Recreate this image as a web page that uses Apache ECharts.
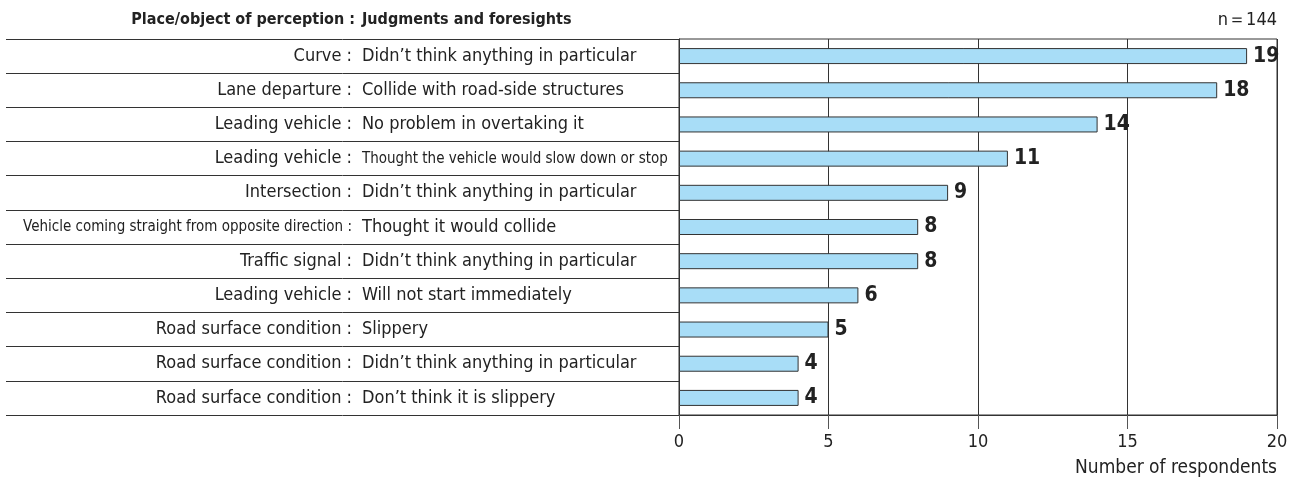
<!DOCTYPE html>
<html>
<head>
<meta charset="utf-8">
<script src="https://cdn.jsdelivr.net/npm/echarts@6/dist/echarts.min.js"></script>
<style>
  html, body { margin: 0; padding: 0; background: #fff; }
  #chart { width: 1304px; height: 481px; }
</style>
</head>
<body>
<div id="chart"></div>
<script>
// Place/object of perception (left part of each row label)
const places = [
  'Curve :',
  'Lane departure :',
  'Leading vehicle :',
  'Leading vehicle :',
  'Intersection :',
  'Vehicle coming straight from opposite direction :',
  'Traffic signal :',
  'Leading vehicle :',
  'Road surface condition :',
  'Road surface condition :',
  'Road surface condition :'
];
// Judgments and foresights (right part of each row label)
const judgments = [
  'Didn\u2019t think anything in particular',
  'Collide with road-side structures',
  'No problem in overtaking it',
  'Thought the vehicle would slow down or stop',
  'Didn\u2019t think anything in particular',
  'Thought it would collide',
  'Didn\u2019t think anything in particular',
  'Will not start immediately',
  'Slippery',
  'Didn\u2019t think anything in particular',
  'Don\u2019t think it is slippery'
];
// Number of respondents
const counts = [19, 18, 14, 11, 9, 8, 8, 6, 5, 4, 4];
// Long texts that are set in a smaller size
const smallPlaceRows = [5];
const smallJudgmentRows = [3];
const xTicks = [0, 5, 10, 15, 20];

const categories = places.map((p, i) => p + ' ' + judgments[i]);

const FONT = '"Liberation Sans Narrow", "DejaVu Sans Condensed", "Liberation Sans", sans-serif';
const INK = '#222';
const LINE = '#333';
const PLOT = { left: 679, right: 27, top: 39, bottom: 66 };
const TICK_LEN = 14;

const chart = echarts.init(document.getElementById('chart'));

chart.setOption({
  animation: false,
  textStyle: { fontFamily: FONT },
  graphic: [
    {
      id: 'head-place', type: 'text', x: 355, y: 20,
      style: {
        text: 'Place/object of perception :', textAlign: 'right', textVerticalAlign: 'middle',
        font: 'bold 16px ' + FONT, fill: INK
      }
    },
    {
      id: 'head-judgment', type: 'text', x: 362, y: 20,
      style: {
        text: 'Judgments and foresights', textAlign: 'left', textVerticalAlign: 'middle',
        font: 'bold 16px ' + FONT, fill: INK
      }
    },
    {
      id: 'sample-size', type: 'text', x: 1277, y: 20,
      style: {
        text: 'n\uFF1D144', textAlign: 'right', textVerticalAlign: 'middle',
        font: '18px ' + FONT, fill: INK
      }
    },
    {
      id: 'x-name', type: 'text', x: 1277, y: 468,
      style: {
        text: 'Number of respondents', textAlign: 'right', textVerticalAlign: 'middle',
        font: '19px ' + FONT, fill: INK
      }
    }
  ],
  grid: [
    Object.assign({ show: true, borderColor: LINE, borderWidth: 1, backgroundColor: 'transparent' }, PLOT),
    { left: 6, right: 1304 - PLOT.left, top: PLOT.top, bottom: PLOT.bottom }
  ],
  xAxis: [
    {
      gridIndex: 0, type: 'value', min: 0, max: 20, interval: 5, position: 'bottom',
      axisLine: { show: true, onZero: false, lineStyle: { color: LINE, width: 1 } },
      axisTick: { show: true, length: TICK_LEN, lineStyle: { color: '#555', width: 1 } },
      axisLabel: {
        fontFamily: FONT, fontSize: 18, color: INK, margin: 18,
        formatter: v => (xTicks.includes(v) ? String(v) : '')
      },
      splitLine: { show: true, lineStyle: { color: LINE, width: 1 } }
    },
    { gridIndex: 1, type: 'value', min: 0, max: 1, show: false }
  ],
  yAxis: [
    {
      gridIndex: 0, type: 'category', data: categories, inverse: true,
      axisLine: { show: true, lineStyle: { color: LINE, width: 1 } },
      axisTick: { show: false },
      splitLine: { show: false },
      axisLabel: {
        margin: PLOT.left - 352, align: 'right',
        formatter: (v, i) => (smallPlaceRows.includes(i) ? '{s|' : '{n|') + places[i] + '}',
        rich: {
          n: { fontFamily: FONT, fontSize: 18, color: INK },
          s: { fontFamily: FONT, fontSize: 15, color: INK }
        }
      }
    },
    {
      gridIndex: 0, type: 'category', data: categories, inverse: true, position: 'left',
      axisLine: { show: false },
      axisTick: { show: false },
      splitLine: { show: false },
      axisLabel: {
        margin: PLOT.left - 362, align: 'left',
        formatter: (v, i) => (smallJudgmentRows.includes(i) ? '{s|' : '{n|') + judgments[i] + '}',
        rich: {
          n: { fontFamily: FONT, fontSize: 18, color: INK },
          s: { fontFamily: FONT, fontSize: 15, color: INK }
        }
      }
    },
    {
      // row separators across the label area
      gridIndex: 1, type: 'category', data: categories, inverse: true,
      axisLine: { show: false },
      axisTick: { show: false },
      axisLabel: { show: false },
      splitLine: { show: true, lineStyle: { color: LINE, width: 1 } }
    }
  ],
  series: [
    {
      type: 'bar',
      xAxisIndex: 0,
      yAxisIndex: 0,
      data: counts,
      barWidth: 16,
      itemStyle: { color: '#a8ddf7', borderColor: LINE, borderWidth: 1 },
      label: {
        show: true, position: 'right', distance: 6,
        fontFamily: FONT, fontSize: 21, fontWeight: 'bold', color: INK
      },
      z: 3
    }
  ]
});
</script>
</body>
</html>
